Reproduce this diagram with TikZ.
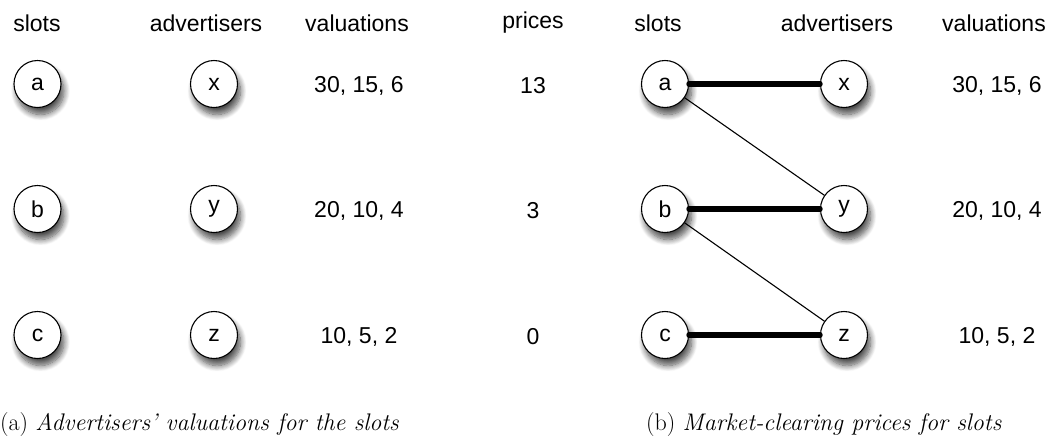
\documentclass[tikz,border=0pt]{standalone}
\usepackage{fontspec}
\setsansfont{Liberation Sans}
\usetikzlibrary{shadows.blur}
\begin{document}
\begin{tikzpicture}[x=1pt,y=-1pt,
  vert/.style={circle,draw,line width=1.1pt,fill=white,minimum size=47pt,inner sep=0pt,
    font=\sffamily\fontsize{23}{27}\selectfont,
    blur shadow={shadow xshift=3pt,shadow yshift=-7pt,shadow blur steps=10,shadow blur radius=6pt,shadow opacity=70}},
  lbl/.style={font=\sffamily\fontsize{23}{27}\selectfont,inner sep=0pt},
  captext/.style={font=\fontsize{24}{28}\selectfont,inner sep=0pt,anchor=west},
  heavyedge/.style={line width=5.5pt,line cap=round},
  lightedge/.style={line width=1.1pt}]
\useasboundingbox (0,0) rectangle (1048,445);
% panel (a)
\node[lbl] (ha1) at (37,23) {slots};
\node[lbl] (ha2) at (206,23) {advertisers};
\node[lbl] (ha3) at (357,23) {valuations};
\node[vert] (a1) at (37.5,84) {a};
\node[vert] (b1) at (37.5,209) {b};
\node[vert] (c1) at (37.5,335) {c};
\node[vert] (x1) at (214,84) {x};
\node[vert] (y1) at (214,209) {y};
\node[vert] (z1) at (214,335) {z};
\node[lbl] (v1) at (359,86) {30, 15, 6};
\node[lbl] (v2) at (359,211) {20, 10, 4};
\node[lbl] (v3) at (359,337) {10, 5, 2};
\node[captext] (capa) at (0,425) {(a)\ \textit{Advertisers' valuations for the slots}};
% panel (b)
\node[lbl] (hp) at (533,23) {prices};
\node[lbl] (hb1) at (658,23) {slots};
\node[lbl] (hb2) at (837,23) {advertisers};
\node[lbl] (hb3) at (994,23) {valuations};
\node[lbl] (p1) at (533,86) {13};
\node[lbl] (p2) at (533,211) {3};
\node[lbl] (p3) at (533,337) {0};
\node[vert] (a2) at (665,84) {a};
\node[vert] (b2) at (665,209) {b};
\node[vert] (c2) at (665,335) {c};
\node[vert] (x2) at (844,84) {x};
\node[vert] (y2) at (844,209) {y};
\node[vert] (z2) at (844,335) {z};
\node[lbl] (w1) at (997,86) {30, 15, 6};
\node[lbl] (w2) at (997,211) {20, 10, 4};
\node[lbl] (w3) at (997,337) {10, 5, 2};
\node[captext] (capb) at (646,425) {(b)\ \textit{Market-clearing prices for slots}};
\draw[lightedge] (a2) -- (y2);
\draw[lightedge] (b2) -- (z2);
\draw[heavyedge] (a2.east) -- (x2.west);
\draw[heavyedge] (b2.east) -- (y2.west);
\draw[heavyedge] (c2.east) -- (z2.west);
\end{tikzpicture}
\end{document}
